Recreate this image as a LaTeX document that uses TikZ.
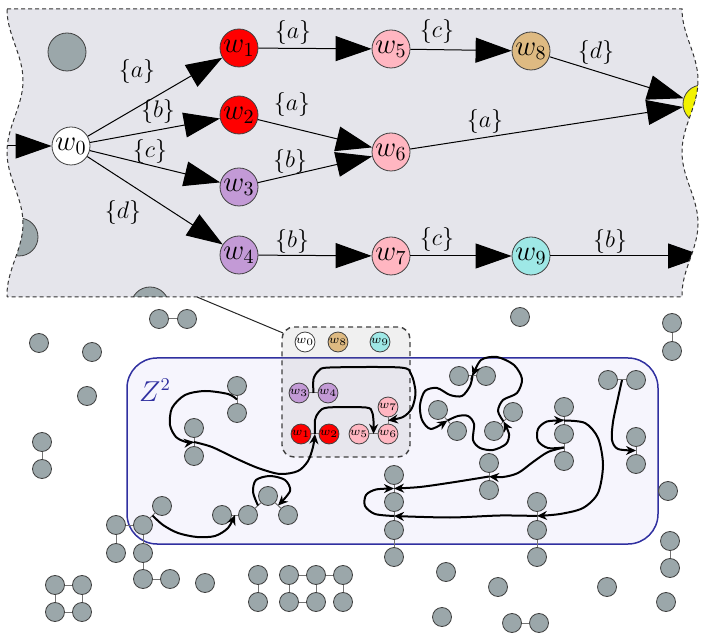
\documentclass[tikz,border=0pt]{standalone}
\usetikzlibrary{arrows.meta,calc}
\definecolor{panelfill}{HTML}{E5E5EB}
\definecolor{nodegray}{HTML}{9BA7AA}
\definecolor{wred}{HTML}{FF0000}
\definecolor{wpurple}{HTML}{C39AD6}
\definecolor{wpink}{HTML}{FFB6C1}
\definecolor{wtan}{HTML}{DEBA82}
\definecolor{wcyan}{HTML}{9EE8E6}
\definecolor{wyellow}{HTML}{F2F200}
\definecolor{zblue}{HTML}{3030A0}
\definecolor{zfill}{HTML}{F6F5FD}
\tikzset{
  gnode/.style={circle, draw=black!75, fill=nodegray, minimum size=9.5pt, inner sep=0pt, line width=0.4pt},
  bignode/.style={circle, draw=black!75, minimum size=19pt, inner sep=0pt, line width=0.4pt, font=\fontsize{14}{16}\selectfont},
  smallw/.style={circle, draw=black!75, minimum size=9.5pt, inner sep=0pt, line width=0.4pt, font=\fontsize{6}{7}\selectfont},
  link/.style={draw=black!55, line width=0.5pt},
  bigarrow/.style={line width=0.5pt, draw=black, -{Triangle[length=18pt,width=12.5pt]}},
  lbl/.style={font=\fontsize{12.3}{14}\selectfont, inner sep=0pt},
  flow/.style={line width=1pt, -{Stealth[length=5pt,width=4.5pt]}},
  paneledge/.style={draw=black!80, line width=0.5pt, dash pattern=on 2pt off 1.5pt},
  insetbox/.style={draw=black!75, line width=0.7pt, dash pattern=on 2.5pt off 2pt, fill=black!50, fill opacity=0.12, rounded corners=6pt, minimum width=64pt, minimum height=65pt, inner sep=0pt},
  zonebox/.style={draw=zblue, fill=zfill, line width=0.75pt, rounded corners=15pt, minimum width=265.5pt, minimum height=93pt, inner sep=0pt},
}
\begin{document}
\begin{tikzpicture}[x=0.5pt,y=-0.5pt]
\useasboundingbox (0,0) rectangle (706,640);

% zone Z^2
\node[zonebox] (zone) at (392.5,451) {};
\node[text=zblue, font=\fontsize{13.5}{16}\selectfont, inner sep=0pt] (zname) at (155,390) {$Z^2$};

% inset box
\node[insetbox] (inset) at (346,392) {};

% top panel
\fill[panelfill] (7,9) -- (682,9)
  -- plot[domain=9:297,samples=80,variable=\t] ({690-8*cos(2.51748*(\t-9))},{\t})
  -- (7,297)
  -- plot[domain=297:9,samples=80,variable=\t] ({15-8*cos(2.51748*(\t-9))},{\t}) -- cycle;
\begin{scope}
\clip (7,9) -- (682,9)
  -- plot[domain=9:297,samples=80,variable=\t] ({690-8*cos(2.51748*(\t-9))},{\t})
  -- (7,297)
  -- plot[domain=297:9,samples=80,variable=\t] ({15-8*cos(2.51748*(\t-9))},{\t}) -- cycle;
\node[gnode, minimum size=19pt] (bg1) at (67,52) {};
\node[gnode, minimum size=19pt] (bg2) at (19,237) {};
\node[gnode, minimum size=19pt] (bg3) at (150,306) {};
\node[bignode, fill=white] (W0) at (71,146) {$w_0$};
\node[bignode, fill=wred] (W1) at (239,48) {$w_1$};
\node[bignode, fill=wred] (W2) at (239,115) {$w_2$};
\node[bignode, fill=wpurple] (W3) at (239,187) {$w_3$};
\node[bignode, fill=wpurple] (W4) at (239,255) {$w_4$};
\node[bignode, fill=wpink] (W5) at (391,49) {$w_5$};
\node[bignode, fill=wpink] (W6) at (391,152) {$w_6$};
\node[bignode, fill=wpink] (W7) at (391,256) {$w_7$};
\node[bignode, fill=wtan] (W8) at (531,51) {$w_8$};
\node[bignode, fill=wcyan] (W9) at (531,256) {$w_9$};
\node[bignode, fill=wyellow] (V) at (702,104) {$v$};
\coordinate (inA) at (-5,146);
\coordinate (outA) at (704,256);
\draw[bigarrow] (inA) -- (W0);
\draw[bigarrow] (W0) -- (W1);
\draw[bigarrow] (W0) -- (W2);
\draw[bigarrow] (W0) -- (W3);
\draw[bigarrow] (W0) -- (W4);
\draw[bigarrow] (W1) -- (W5);
\draw[bigarrow] (W2) -- (W6);
\draw[bigarrow] (W3) -- (W6);
\draw[bigarrow] (W4) -- (W7);
\draw[bigarrow] (W5) -- (W8);
\draw[bigarrow] (W8) -- (V);
\draw[bigarrow] (W6) -- (V);
\draw[bigarrow] (W7) -- (W9);
\draw[bigarrow] (W9) -- (outA);
\node[lbl] at (137,72) {$\{a\}$};
\node[lbl] at (158,112) {$\{b\}$};
\node[lbl] at (150,152) {$\{c\}$};
\node[lbl] at (123,213) {$\{d\}$};
\node[lbl] at (293,33) {$\{a\}$};
\node[lbl] at (292,105) {$\{a\}$};
\node[lbl] at (290,162) {$\{b\}$};
\node[lbl] at (292,242) {$\{b\}$};
\node[lbl] at (437,32) {$\{c\}$};
\node[lbl] at (596,53) {$\{d\}$};
\node[lbl] at (485,122) {$\{a\}$};
\node[lbl] at (437,240) {$\{c\}$};
\node[lbl] at (610,242) {$\{b\}$};
\end{scope}
\draw[paneledge] (7,9) -- (682,9)
  -- plot[domain=9:297,samples=80,variable=\t] ({690-8*cos(2.51748*(\t-9))},{\t})
  -- (7,297)
  -- plot[domain=297:9,samples=80,variable=\t] ({15-8*cos(2.51748*(\t-9))},{\t}) -- cycle;

% zoom connector
\coordinate (zs) at (197,297);
\coordinate (ze) at (283,333);
\draw[line width=0.5pt, black!85] (zs) -- (ze);

% inset nodes
\node[smallw, fill=white] (s0) at (305,342) {$w_0$};
\node[smallw, fill=wtan] (s8) at (338,342) {$w_8$};
\node[smallw, fill=wcyan] (s9) at (380,342) {$w_9$};
\node[smallw, fill=wpurple] (s3) at (299,393) {$w_3$};
\node[smallw, fill=wpurple] (s4) at (328,393) {$w_4$};
\node[smallw, fill=wpink] (s7) at (388,407) {$w_7$};
\node[smallw, fill=wred] (s1) at (301,434) {$w_1$};
\node[smallw, fill=wred] (s2) at (329,434) {$w_2$};
\node[smallw, fill=wpink] (s5) at (359,434) {$w_5$};
\node[smallw, fill=wpink] (s6) at (388,434) {$w_6$};
\foreach \a/\b in {s3/s4, s1/s2, s5/s6, s6/s7} \draw[link] (\a) -- (\b);

% gray nodes
\foreach \n/\x/\y in {1/159/319, 2/187/319, 3/39/343, 4/92/352, 5/87/396, 6/42/442, 7/42/469,
  8/237/386, 9/237/413, 10/194/428, 11/194/456, 12/162/506, 13/116/525, 14/143/525,
  15/116/553, 16/143/553, 17/143/579, 18/170/579, 19/55/585, 20/82/585, 21/55/612, 22/82/612,
  23/205/583, 24/222/515, 25/248/515, 26/268/496, 27/288/515, 28/258/575, 29/258/602,
  30/289/575, 31/316/575, 32/343/575, 33/289/602, 34/316/602, 35/343/602,
  36/394/475, 37/394/502, 38/394/530, 39/394/557, 40/489/463, 41/489/490,
  42/564/407, 43/564/434, 44/564/461, 45/636/437, 46/636/464, 47/537/502, 48/537/530, 49/537/557,
  50/668/491, 51/670/541, 52/670/568, 53/666/602, 54/446/572, 55/498/587, 56/607/587, 57/442/617,
  58/512/623, 59/539/623, 60/520/317, 61/672/323, 62/672/351, 63/459/376, 64/486/376,
  65/438/410, 66/457/431, 67/513/412, 68/494/431, 69/608/380, 70/636/380}
  \node[gnode] (g\n) at (\x,\y) {};
\foreach \a/\b in {1/2, 6/7, 8/9, 10/11, 12/14, 13/14, 13/15, 14/16, 16/17, 17/18,
  19/20, 19/21, 20/22, 21/22, 24/25, 25/26, 26/27, 28/29, 30/31, 31/32, 30/33, 31/34, 32/35, 33/34,
  36/37, 37/38, 38/39, 40/41, 42/43, 43/44, 45/46, 47/48, 48/49, 51/52, 58/59, 61/62,
  63/64, 65/66, 67/68, 69/70}
  \draw[link] (g\a) -- (g\b);

% edge midpoints
\coordinate (m89) at ($(g8)!0.5!(g9)$);
\coordinate (m1011) at ($(g10)!0.5!(g11)$);
\coordinate (ms12) at ($(s1)!0.5!(s2)$);
\coordinate (ms56) at ($(s5)!0.5!(s6)$);
\coordinate (ms34) at ($(s3)!0.5!(s4)$);
\coordinate (ms67) at ($(s6)!0.5!(s7)$);
\coordinate (m1214) at ($(g12)!0.5!(g14)$);
\coordinate (m2425) at ($(g24)!0.5!(g25)$);
\coordinate (m2526) at ($(g25)!0.5!(g26)$);
\coordinate (m2627) at ($(g26)!0.5!(g27)$);
\coordinate (m6364) at ($(g63)!0.5!(g64)$);
\coordinate (m6566) at ($(g65)!0.5!(g66)$);
\coordinate (m6768) at ($(g67)!0.5!(g68)$);
\coordinate (m4243) at ($(g42)!0.5!(g43)$);
\coordinate (m4344) at ($(g43)!0.5!(g44)$);
\coordinate (m4041) at ($(g40)!0.5!(g41)$);
\coordinate (m3637) at ($(g36)!0.5!(g37)$);
\coordinate (m3738) at ($(g37)!0.5!(g38)$);
\coordinate (m4748) at ($(g47)!0.5!(g48)$);
\coordinate (m6970) at ($(g69)!0.5!(g70)$);
\coordinate (m4546) at ($(g45)!0.5!(g46)$);

% flows
\draw[flow] plot[smooth] coordinates {(m89) (228,394) (205,391) (185,395) (172,408) (170,425) (176,437) (186,442) (m1011)};
\draw[flow] plot[smooth] coordinates {(m1011) (212,447) (235,458) (258,468) (280,474) (298,471) (308,461) (313,447) (ms12)};
\draw[flow] plot[smooth] coordinates {(ms12) (315,420) (319,412) (328,407.5) (366,407.5) (372,412) (373.5,421) (ms56)};
\draw[flow] plot[smooth] coordinates {(ms34) (313.5,379) (319,370.5) (330,367.5) (400,367.5) (411,374) (415.5,392) (412,408) (403,417) (ms67)};
\draw[flow] plot[smooth] coordinates {(m1214) (163,525) (178,533) (197,537) (215,536) (228,528) (m2425)};
\draw[flow] plot[smooth] coordinates {(m2526) (253,492) (256,480) (270,476) (285,480) (290,491) (m2627)};
\draw[flow] plot[smooth] coordinates {(m6364) (470,386) (462,396) (450,395) (437,388) (425,391) (420,405) (422,420) (431,429) (m6566)};
\draw[flow] plot[smooth] coordinates {(m6566) (458,416) (468,416) (474,424) (473,440) (480,448) (493,450) (506,444) (509,434) (m6768)};
\draw[flow] plot[smooth] coordinates {(m6768) (498,411) (503,400) (517,393) (522,379) (514,365) (497,357) (481,360) (m6364)};
\draw[flow] plot[smooth] coordinates {(m4344) (548,448) (538,441) (538,429) (547,421.5) (m4243)};
\draw[flow] plot[smooth] coordinates {(m4243) (585,423) (598,438) (603,465) (598,493) (583,508) (560,514) (m4748)};
\draw[flow] plot[smooth] coordinates {(m4344) (548,452) (533,462) (518,473) (503,477) (m4041)};
\draw[flow] plot[smooth] coordinates {(m4041) (455,482) (420,487) (m3637)};
\draw[flow] plot[smooth] coordinates {(m3738) (375,514) (365,506) (366,495) (376,489.5) (m3637)};
\draw[flow] plot[smooth] coordinates {(m4748) (500,515.5) (450,517.5) (m3738)};
\draw[flow] plot[smooth] coordinates {(m6970) (618,398) (613,422) (612,440) (618,449) (m4546)};
\end{tikzpicture}
\end{document}
